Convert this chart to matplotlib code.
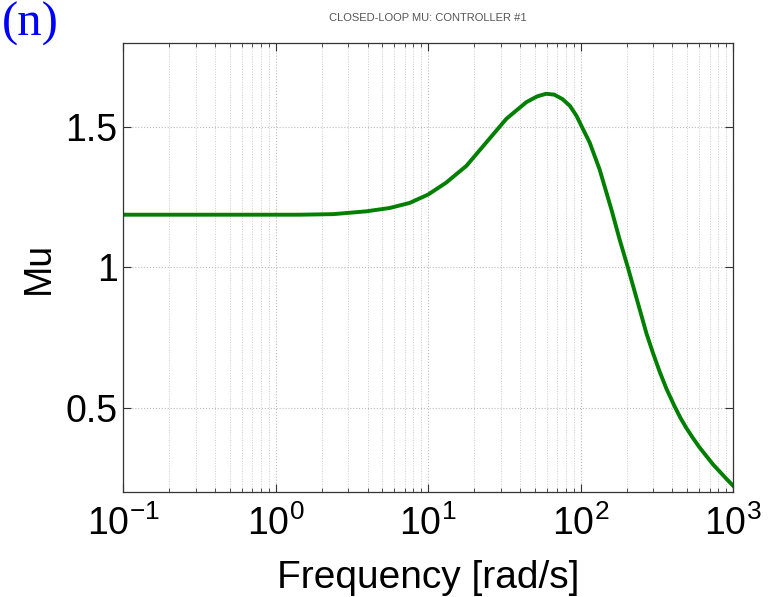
import matplotlib
matplotlib.use("Agg")
import matplotlib.pyplot as plt
from matplotlib.ticker import LogLocator, NullFormatter
import numpy as np

freq = [0.1, 0.5, 1.0, 1.44, 2.38, 3.93, 5.6, 7.56, 10.0, 13.1, 17.8, 24.0, 32.6, 44.0,
        52.0, 59.4, 67.0, 76.0, 85.0, 94.0, 100.0, 114.6, 133.0, 159.0, 180.0, 204.0,
        244.0, 270.0, 298.0, 330.0, 365.0, 413.0, 450.0, 493.0, 545.0, 603.0, 738.0, 902.0, 1000.0]
mu = [1.188, 1.188, 1.188, 1.188, 1.19, 1.20, 1.212, 1.23, 1.26, 1.302, 1.362, 1.445,
      1.53, 1.589, 1.610, 1.619, 1.616, 1.60, 1.576, 1.54, 1.51, 1.445, 1.35, 1.207,
      1.10, 1.0, 0.85, 0.765, 0.695, 0.628, 0.568, 0.505, 0.465, 0.428, 0.392, 0.358, 0.298, 0.247, 0.222]

xticks = [0.1, 1, 10, 100, 1000]
xticklabels = [r"$\mathregular{10^{-1}}$", r"$\mathregular{10^{0}}$", r"$\mathregular{10^{1}}$",
               r"$\mathregular{10^{2}}$", r"$\mathregular{10^{3}}$"]
yticks = [0.5, 1.0, 1.5]
yticklabels = ["0.5", "1", "1.5"]

fam = ["Liberation Sans Narrow", "Liberation Sans", "DejaVu Sans"]
plt.rcParams['font.family'] = fam
plt.rcParams['mathtext.fontset'] = 'custom'
plt.rcParams['mathtext.rm'] = 'Liberation Sans'

fig = plt.figure(figsize=(7.75, 5.97), dpi=100)
ax = fig.add_axes([0.159, 0.176, 0.787, 0.752])

ax.plot(freq, mu, color="#007f00", lw=2.8, solid_joinstyle="round")

ax.set_xscale("log")
ax.set_xlim(0.1, 1000)
ax.set_ylim(0.2, 1.8)
ax.set_xticks(xticks)
ax.set_xticklabels(xticklabels)
ax.xaxis.set_minor_locator(LogLocator(base=10, subs=np.arange(2, 10)))
ax.xaxis.set_minor_formatter(NullFormatter())
ax.set_yticks(yticks)
ax.set_yticklabels(yticklabels)

ax.tick_params(which="both", direction="in", top=True, right=True, labelsize=27, color="#333333")
ax.tick_params(which="major", length=6, width=0.8)
ax.tick_params(axis="x", which="major", pad=10)
ax.tick_params(axis="y", which="major", pad=4)
ax.tick_params(which="minor", length=3, width=0.6)
ax.grid(True, which="major", linestyle=":", color="#bbbbbb", lw=0.8)
ax.grid(True, which="minor", axis="x", linestyle=":", color="#cccccc", lw=0.7)
for s in ax.spines.values():
    s.set_color("#333333")
    s.set_linewidth(0.9)

ax.set_xlabel("Frequency [rad/s]", fontsize=28, labelpad=12)
ax.set_ylabel("Mu", fontsize=27, labelpad=6)
ax.set_title("CLOSED-LOOP MU: CONTROLLER #1", fontsize=8, color="#555555", pad=16)

fig.text(0.002, 0.997, "(n)", fontsize=35, color="#0000ff", family=["Liberation Serif", "DejaVu Serif"],
         ha="left", va="top")

fig.savefig("out.png", dpi=100)
